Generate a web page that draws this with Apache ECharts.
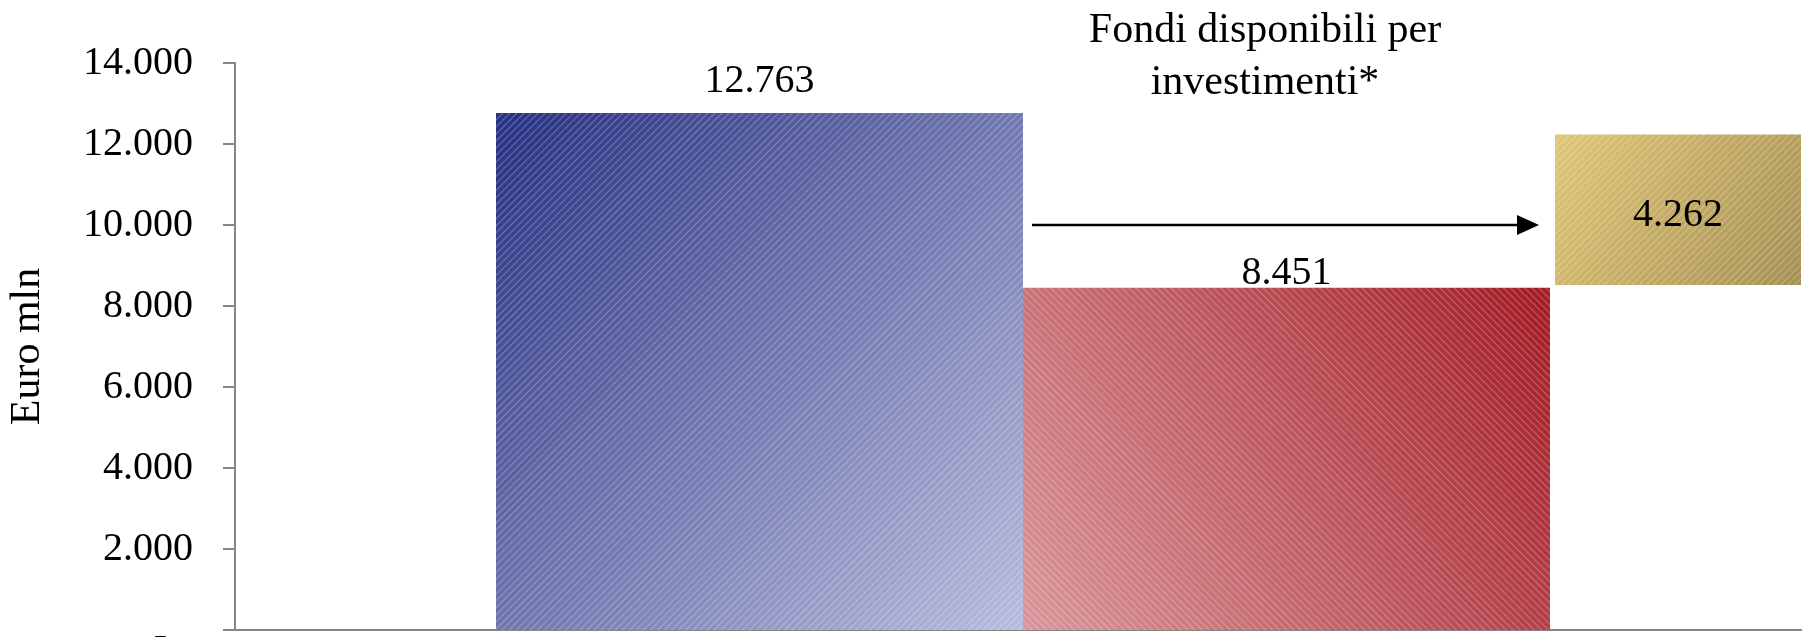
<!DOCTYPE html>
<html>
<head>
<meta charset="utf-8">
<script src="https://cdn.jsdelivr.net/npm/echarts@6/dist/echarts.min.js"></script>
<style>
html, body { margin: 0; padding: 0; background: #fff; }
#chart { width: 1802px; height: 637px; }
</style>
</head>
<body>
<div id="chart"></div>
<script>
// dati del grafico (Euro mln)
const categories = [''];
const totalValues = [12763];     // barra blu
const spentValues = [8451];      // barra rossa
const availBase = [8520];        // base invisibile del riquadro oro
const availSpan = [3715];        // altezza del riquadro oro
const availLabels = ['4.262'];   // testo nel riquadro oro
const arrowValue = [10000];      // quota della freccia
const yMin = 0, yMax = 14000, yStep = 2000;

const FONT = '"Liberation Serif", "Times New Roman", serif';
const chart = echarts.init(document.getElementById('chart'));

function fmt(v) {
    if (v === 0) return '{z|-}';
    return String(v).replace(/\B(?=(\d{3})+(?!\d))/g, '.');
}

function grad(x, y, x2, y2, c0, c1) {
    return new echarts.graphic.LinearGradient(x, y, x2, y2, [
        { offset: 0, color: c0 },
        { offset: 1, color: c1 }
    ]);
}

// tratteggio diagonale sottile
function hatch(rot) {
    return {
        symbol: 'rect',
        symbolSize: 1,
        dashArrayX: [1, 0],
        dashArrayY: [1, 4],
        rotation: rot,
        color: 'rgba(255,255,255,0.28)'
    };
}

const labelStyle = { show: true, fontSize: 40, fontFamily: FONT, color: '#000' };

chart.setOption({
    animation: false,
    backgroundColor: '#fff',
    grid: { left: 235, right: -260, top: 63, bottom: 7, outerBoundsMode: 'none', containLabel: false },
    xAxis: {
        type: 'category',
        data: categories,
        axisLine: { show: true, lineStyle: { color: '#868686', width: 2 } },
        axisTick: { show: false },
        axisLabel: { show: false },
        splitLine: { show: false }
    },
    yAxis: {
        type: 'value',
        min: yMin,
        max: yMax,
        interval: yStep,
        name: 'Euro mln',
        nameLocation: 'middle',
        nameRotate: 90,
        nameGap: 186,
        nameTextStyle: { fontSize: 42, fontFamily: FONT, color: '#000' },
        axisLine: { show: true, lineStyle: { color: '#868686', width: 2 } },
        axisTick: { show: true, length: 12, lineStyle: { color: '#868686', width: 2 } },
        axisLabel: {
            margin: 42,
            fontSize: 40,
            fontFamily: FONT,
            color: '#000',
            formatter: fmt,
            rich: { z: { fontSize: 40, fontFamily: FONT, padding: [12, 26, 0, 0] } }
        },
        splitLine: { show: false }
    },
    series: [
        {
            name: 'Totale',
            type: 'bar',
            stack: 'a',
            barWidth: 527,
            barGap: '0%',
            data: totalValues,
            itemStyle: { color: grad(0, 0, 1, 1, '#283182', '#b8bcdc'), decal: hatch(-Math.PI / 4) },
            label: Object.assign({}, labelStyle, { position: 'top', distance: 12, formatter: p => fmt(p.value) })
        },
        {
            name: 'Spese',
            type: 'bar',
            stack: 'b',
            barWidth: 527,
            barGap: '0%',
            data: spentValues,
            itemStyle: { color: grad(1, 0, 0, 1, '#a31b25', '#d9979b'), decal: hatch(Math.PI / 4) },
            label: Object.assign({}, labelStyle, { position: 'top', distance: 0, offset: [0, 6], formatter: p => fmt(p.value) })
        },
        {
            name: 'spazio',
            type: 'bar',
            stack: 'c',
            barWidth: 5,
            barGap: '0%',
            data: ['-'],
            silent: true,
            itemStyle: { color: 'transparent' }
        },
        {
            name: 'base',
            type: 'bar',
            stack: 'd',
            barWidth: 246,
            barGap: '0%',
            data: availBase,
            silent: true,
            itemStyle: { color: 'transparent' }
        },
        {
            name: 'Disponibili',
            type: 'bar',
            stack: 'd',
            barWidth: 246,
            barGap: '0%',
            data: availSpan,
            itemStyle: { color: grad(0, 0, 1, 1, '#e0c676', '#a69054'), decal: hatch(-Math.PI / 4) },
            label: Object.assign({}, labelStyle, { position: 'inside', offset: [0, 6], formatter: p => availLabels[p.dataIndex] })
        }
    ]
});

// freccia e testo
const ay = chart.convertToPixel({ yAxisIndex: 0 }, arrowValue[0]);
chart.setOption({
    graphic: [
        {
            type: 'polyline',
            shape: { points: [[1032, ay], [1520, ay]] },
            style: { stroke: '#000', lineWidth: 2.5 }
        },
        {
            type: 'polygon',
            shape: { points: [[1517, ay - 10], [1539, ay], [1517, ay + 10]] },
            style: { fill: '#000' }
        },
        {
            type: 'text',
            x: 1265,
            y: 5,
            style: {
                text: 'Fondi disponibili per\ninvestimenti*',
                fontSize: 42,
                fontFamily: FONT,
                lineHeight: 52,
                align: 'center',
                verticalAlign: 'top',
                fill: '#000'
            }
        }
    ]
});
</script>
</body>
</html>
